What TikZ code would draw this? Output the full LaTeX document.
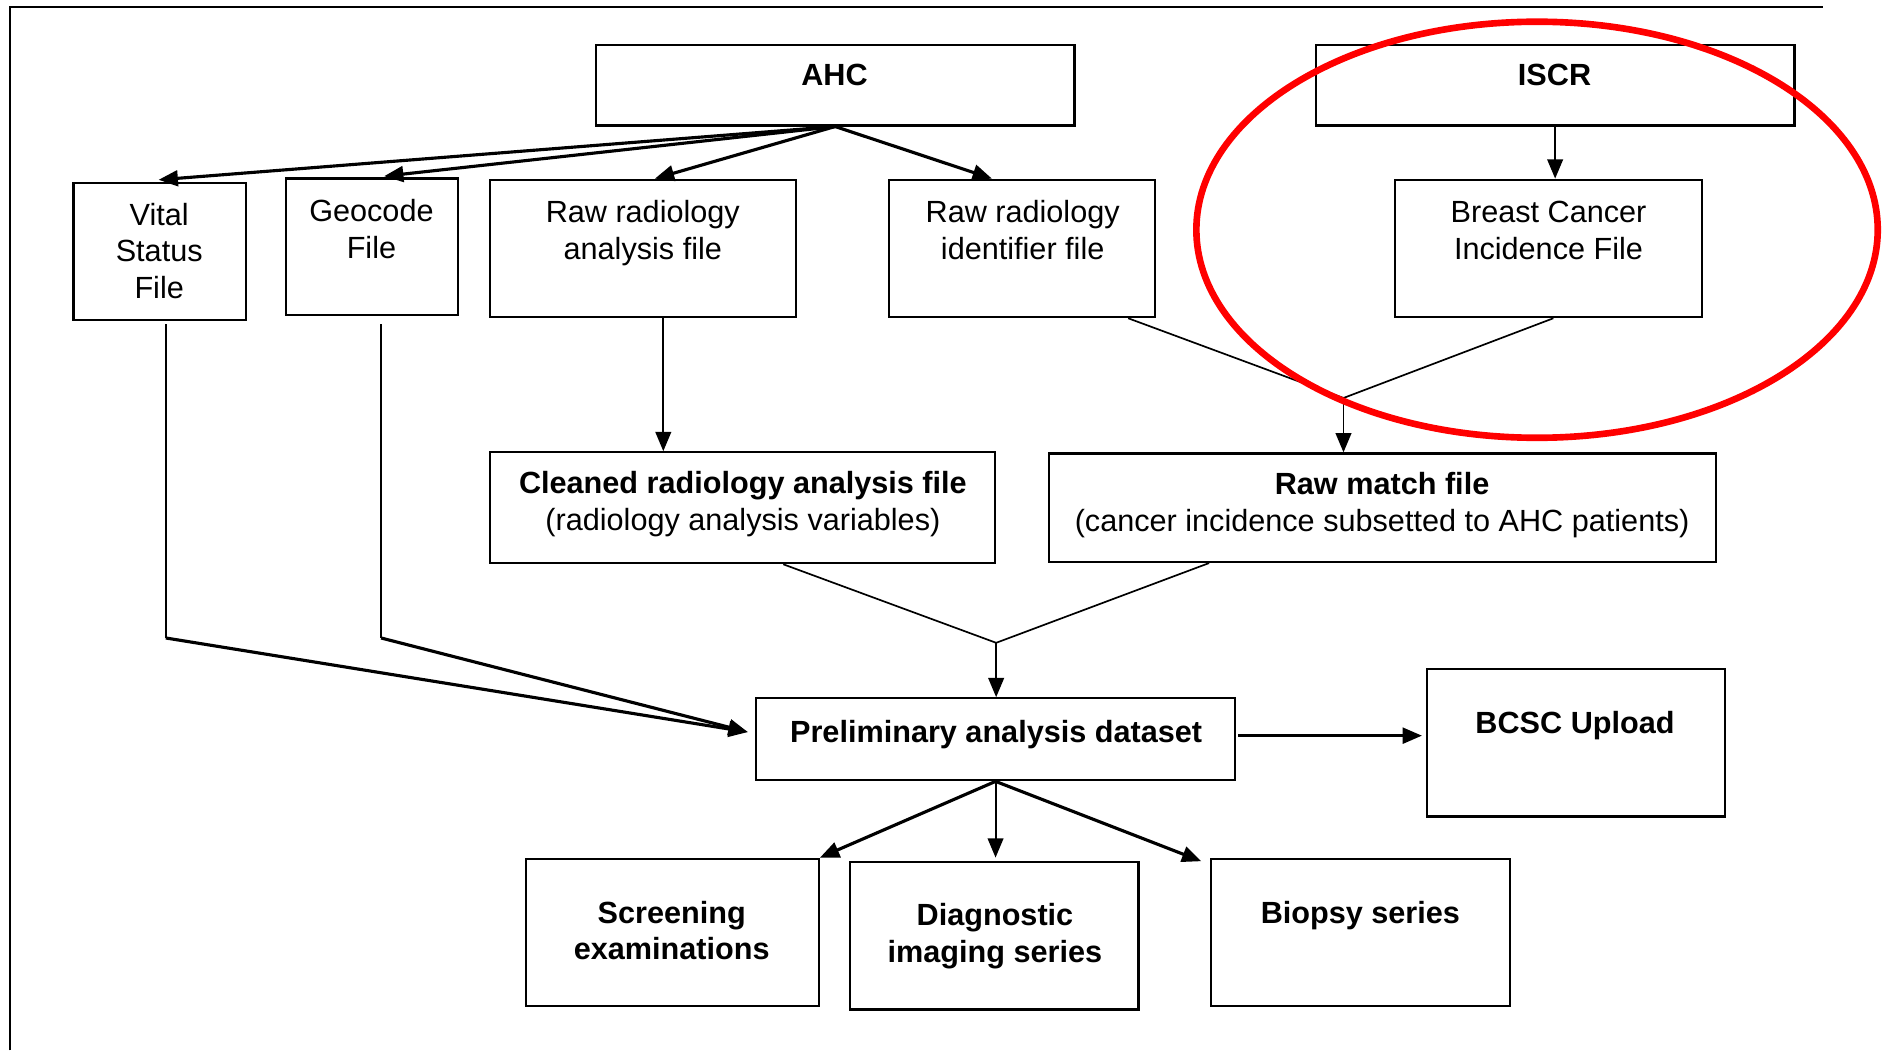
\documentclass[tikz,border=0pt]{standalone}
\usepackage{fontspec}
\setmainfont{Liberation Sans}
\usetikzlibrary{arrows.meta,calc}

\tikzset{
  box/.style={draw, line width=1.8pt, inner sep=0pt},
  lbl/.style={align=center, inner sep=0pt, font=\fontsize{25.4}{30.5}\selectfont},
  blbl/.style={lbl, font=\fontsize{25.4}{30.5}\selectfont\bfseries},
  thinline/.style={line width=1.4pt},
  thickline/.style={line width=2.6pt},
  arr/.style={line width=2.6pt, -{Triangle[length=16pt,width=13pt]}},
  thinarr/.style={line width=1.6pt, -{Triangle[length=16pt,width=13pt]}},
}

\begin{document}
\begin{tikzpicture}[x=1pt, y=-1pt]
\useasboundingbox (0,0) rectangle (1568,871);

% page frame
\draw[line width=1.5pt] (8.5,871) -- (8.5,5.5) -- (1512,5.5);

% sources
\node[box, minimum width=397, minimum height=67] (ahc) at (692.5,70.5) {};
\node[blbl] (ahc-t) at (692,62.5) {AHC};
\node[box, minimum width=397, minimum height=67] (iscr) at (1289.5,70.5) {};
\node[blbl] (iscr-t) at (1289,62.5) {ISCR};

% files
\node[box, minimum width=143, minimum height=113] (vital) at (132.5,208.5) {};
\node[lbl] (vital-t) at (132,208) {Vital\\Status\\File};
\node[box, minimum width=143, minimum height=113] (geo) at (308.5,204.5) {};
\node[lbl] (geo-t) at (308,190) {Geocode\\File};
\node[box, minimum width=254, minimum height=114] (rawa) at (533,206) {};
\node[lbl] (rawa-t) at (533,193) {Raw radiology\\analysis file};
\node[box, minimum width=221, minimum height=114] (rawi) at (847.5,206) {};
\node[lbl] (rawi-t) at (848,190.5) {Raw radiology\\identifier file};
\node[box, minimum width=254, minimum height=114] (breast) at (1284,206) {};
\node[lbl] (breast-t) at (1284,191) {Breast Cancer\\Incidence File};

% intermediate files
\node[box, minimum width=419, minimum height=92] (cleaned) at (615.5,421) {};
\node[lbl] (cleaned-t) at (616,418) {{\bfseries Cleaned radiology analysis file}\\(radiology analysis variables)};
\node[box, minimum width=553, minimum height=90] (match) at (1146.5,421) {};
\node[lbl] (match-t) at (1146,419) {{\bfseries Raw match file}\\(cancer incidence subsetted to AHC patients)};

% dataset and outputs
\node[box, minimum width=397, minimum height=68] (prelim) at (825.5,613) {};
\node[blbl] (prelim-t) at (826,609) {Preliminary analysis dataset};
\node[box, minimum width=247, minimum height=122] (bcsc) at (1306.5,616) {};
\node[blbl] (bcsc-t) at (1306,602) {BCSC Upload};
\node[box, minimum width=243, minimum height=122] (screen) at (557.5,773) {};
\node[blbl] (screen-t) at (557,771.5) {Screening\\examinations};
\node[box, minimum width=239, minimum height=122] (diag) at (824.5,776) {};
\node[blbl] (diag-t) at (825,776) {Diagnostic\\imaging series};
\node[box, minimum width=248, minimum height=122] (biopsy) at (1128,773) {};
\node[blbl] (biopsy-t) at (1128,759) {Biopsy series};

\coordinate (vbend) at (137.5,529);
\coordinate (gbend) at (316,529);
\coordinate (mjoin) at (1114,330);
\coordinate (pjoin) at (826,533);

% from AHC and ISCR
\draw[arr] (ahc.south) -- ($(vital.north)+(-1,-2)$);
\draw[arr] (ahc.south) -- ($(geo.north)+(10,-1)$);
\draw[arr] (ahc.south) -- ($(rawa.north)+(10,0)$);
\draw[arr] (ahc.south) -- ($(rawi.north)+(-25,0)$);
\draw[thinarr] (iscr.south) -- (iscr.south |- breast.north);

% into the match and cleaned files
\draw[thinarr] ($(rawa.south)+(17,0)$) coordinate (ra) -- (ra |- cleaned.north);
\draw[thinline] ($(rawi.south)+(88,0)$) -- (mjoin);
\draw[thinline] ($(breast.south)+(4,0)$) -- (mjoin);
\draw[thinarr] (mjoin) -- (mjoin |- match.north);

% into the dataset
\draw[thinline] ($(vital.south)+(5,3)$) -- (vbend);
\draw[thinline] ($(geo.south)+(7.5,7)$) -- (gbend);
\draw[arr] (vbend) -- ($(prelim.west)+(-6,-6)$);
\draw[arr] (gbend) -- ($(prelim.west)+(-6,-6)$);
\draw[thinline] ($(cleaned.south)+(34,0)$) -- (pjoin);
\draw[thinline] ($(match.south)+(-144,0)$) -- (pjoin);
\draw[thinarr] (pjoin) -- (pjoin |- prelim.north);

% out of the dataset
\draw[arr] ($(prelim.east)+(2,-3)$) -- ($(bcsc.west)+(-3,-6)$);
\draw[arr] (prelim.south) -- (screen.north east);
\draw[thinarr] (prelim.south) -- ($(prelim.south |- diag.north)+(0,-3)$);
\draw[arr] (prelim.south) -- ($(biopsy.north west)+(-7,3)$);

% highlight
\draw[red, line width=5.5pt] (1274.5,190.5) ellipse [x radius=282.5, y radius=172.5];
\end{tikzpicture}
\end{document}
